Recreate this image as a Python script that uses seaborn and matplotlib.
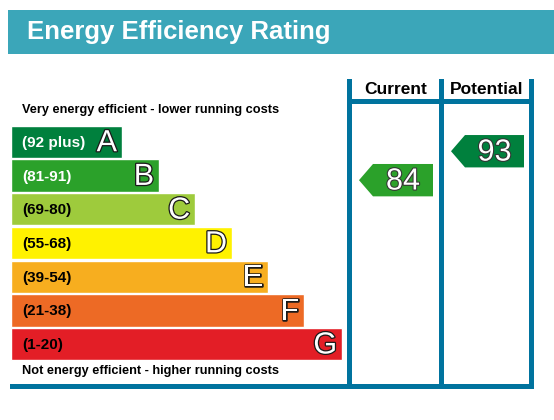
import matplotlib
matplotlib.use("Agg")
import matplotlib.pyplot as plt
import matplotlib.patheffects as pe
from matplotlib.patches import Rectangle, Polygon
from matplotlib.transforms import blended_transform_factory
import seaborn as sns

# Dados do gráfico
bands = ["A", "B", "C", "D", "E", "F", "G"]
ranges = ["(92 plus)", "(81-91)", "(69-80)", "(55-68)", "(39-54)", "(21-38)", "(1-20)"]
band_lo = [92, 81, 69, 55, 39, 21, 1]
band_hi = [100, 91, 80, 68, 54, 38, 20]
bar_len = [111, 148, 184, 221, 257, 293, 331]
band_colors = ["#00803d", "#2ba12a", "#9ecb3c", "#fff200", "#f7ae1f", "#ed6a25", "#e31e26"]
label_colors = ["white", "white", "black", "black", "black", "black", "black"]
current = 84
potential = 93

TEAL = "#3ba6b9"
BLUE = "#00739e"

sns.set_theme(style="white")
plt.rcParams["font.family"] = ["Liberation Sans", "DejaVu Sans"]

fig = plt.figure(figsize=(5.54, 4.2), dpi=100)
W, H = 554, 420

# Eixo das barras (x em pixels a partir de x=11)
ax = fig.add_axes([11 / W, (H - 361) / H, (W - 11) / W, 236 / H])
sns.barplot(x=bar_len, y=bands, hue=bands, palette=band_colors, legend=False,
            orient="h", width=0.96, saturation=1, ax=ax)
ax.set_xlim(0, W - 11)
ax.set_ylim(6.5, -0.5)
ax.axis("off")

outline = [pe.withStroke(linewidth=1.8, foreground="#1a1a1a")]
for i, (b, r) in enumerate(zip(bands, ranges)):
    ax.text(11, i + 0.03, r, ha="left", va="center", fontsize=11, fontweight="bold",
            color=label_colors[i])
    ax.text(bar_len[i] - 5, i + 0.04, b, ha="right", va="center", fontsize=22,
            color="white", path_effects=outline)

# Sobreposição em pixels
ov = fig.add_axes([0, 0, 1, 1])
ov.set_xlim(0, W)
ov.set_ylim(H, 0)
ov.patch.set_alpha(0)
ov.axis("off")

# Faixa do título
ov.add_patch(Rectangle((8, 10), W - 8, 44, color=TEAL, lw=0))
ov.text(27, 32, "Energy Efficiency Rating", ha="left", va="center", fontsize=18.5,
        fontweight="bold", color="white")

# Moldura
for rect in [(10, 384, 524, 5), (347, 79, 5, 310), (439, 79, 5, 310),
             (529, 79, 5, 310), (347, 99, 187, 5)]:
    ov.add_patch(Rectangle(rect[:2], rect[2], rect[3], color=BLUE, lw=0))

ov.text(396, 89, "Current", ha="center", va="center", fontsize=12.5, fontweight="bold",
        color="black")
ov.text(487, 89, "Potential", ha="center", va="center", fontsize=12.5, fontweight="bold",
        color="black")

ov.text(22, 110, "Very energy efficient - lower running costs", ha="left", va="center",
        fontsize=9.2, fontweight="bold", color="black")
ov.text(22, 371, "Not energy efficient - higher running costs", ha="left", va="center",
        fontsize=9.2, fontweight="bold", color="black")

# Setas (x em pixels, y na escala das faixas)
tr = blended_transform_factory(ov.transData, ax.transData)


def band_of(v):
    for i in range(len(bands)):
        if band_lo[i] <= v <= band_hi[i]:
            return i
    return len(bands) - 1


def draw_arrow(value, left, right):
    i = band_of(value)
    yc = i - 0.5 + (band_hi[i] - value) / (band_hi[i] - band_lo[i] + 1)
    h = 0.48
    tip = left + 7
    body = tip + 14
    end = right - 6
    pts = [(tip, yc), (body, yc - h), (end, yc - h), (end, yc + h), (body, yc + h)]
    ov.add_patch(Polygon(pts, closed=True, color=band_colors[i], lw=0, transform=tr))
    ov.text((body + end) / 2, yc + 0.04, str(value), ha="center", va="center",
            fontsize=22, color="white", transform=tr,
            path_effects=[pe.withStroke(linewidth=1.5, foreground="#333333")])


draw_arrow(current, 352, 439)
draw_arrow(potential, 444, 530)

fig.savefig("out.png", dpi=100)
